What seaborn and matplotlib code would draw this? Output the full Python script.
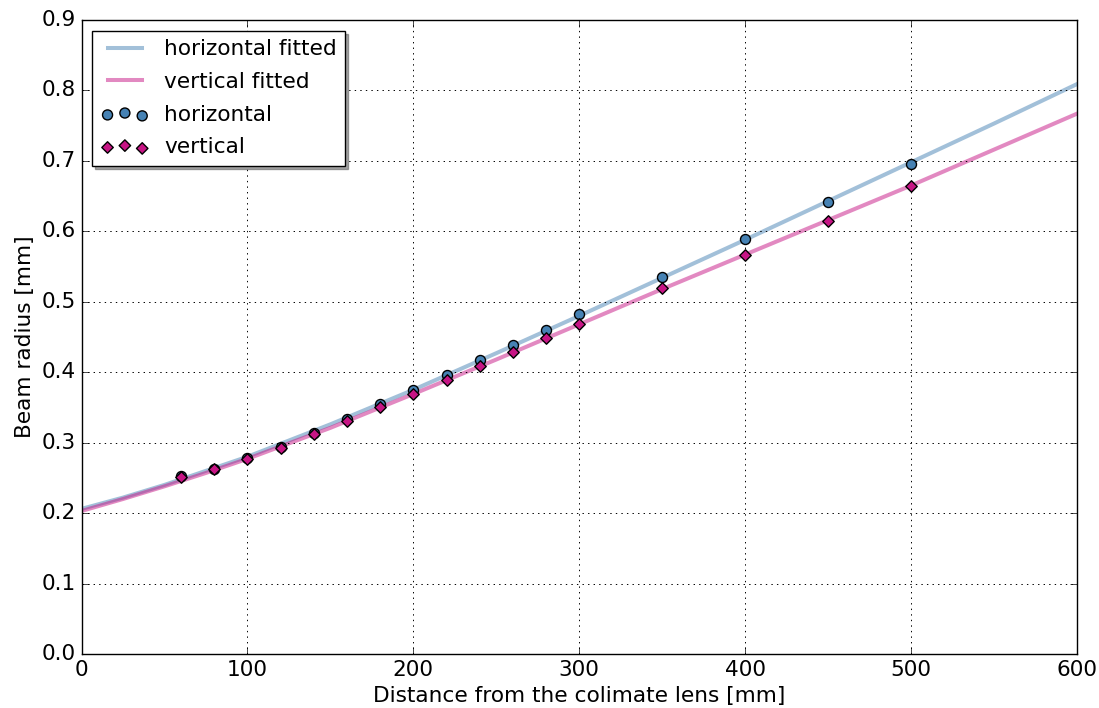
import matplotlib
matplotlib.use("Agg")
import matplotlib.pyplot as plt
import seaborn as sns
import pandas as pd

# Measured beam radius at each distance from the collimating lens
distance_mm = [60, 80, 100, 120, 140, 160, 180, 200, 220, 240, 260, 280, 300,
               350, 400, 450, 500]
horizontal_mm = [0.253, 0.263, 0.278, 0.294, 0.313, 0.334, 0.355, 0.375, 0.396,
                 0.417, 0.438, 0.460, 0.482, 0.535, 0.589, 0.642, 0.695]
vertical_mm = [0.251, 0.262, 0.277, 0.293, 0.312, 0.331, 0.351, 0.369, 0.389,
               0.409, 0.429, 0.449, 0.469, 0.519, 0.566, 0.615, 0.664]

# Fitted beam-radius curves, sampled along the distance axis
fit_distance_mm = [0, 25, 50, 75, 100, 150, 200, 250, 300, 350, 400, 450, 500,
                   550, 600]
horizontal_fit_mm = [0.206, 0.222, 0.240, 0.260, 0.280, 0.326, 0.375, 0.427,
                     0.480, 0.534, 0.588, 0.643, 0.698, 0.753, 0.809]
vertical_fit_mm = [0.203, 0.220, 0.238, 0.257, 0.277, 0.321, 0.369, 0.418,
                   0.468, 0.518, 0.567, 0.616, 0.665, 0.716, 0.767]

x_ticks = [0, 100, 200, 300, 400, 500, 600]
y_ticks = [0.0, 0.1, 0.2, 0.3, 0.4, 0.5, 0.6, 0.7, 0.8, 0.9]

meas = pd.DataFrame({"distance": distance_mm,
                     "horizontal": horizontal_mm,
                     "vertical": vertical_mm})
fit = pd.DataFrame({"distance": fit_distance_mm,
                    "horizontal": horizontal_fit_mm,
                    "vertical": vertical_fit_mm})

plt.style.use("classic")
fs = 15.6
plt.rcParams.update({
    "font.family": ["DejaVu Sans"],
    "font.size": fs,
    "axes.labelsize": fs,
    "xtick.labelsize": fs,
    "ytick.labelsize": fs,
    "legend.fontsize": fs,
    "grid.color": "black",
    "grid.linestyle": ":",
    "grid.linewidth": 0.7,
    "axes.linewidth": 1.0,
    "xtick.major.size": 5,
    "ytick.major.size": 5,
    "xtick.direction": "in",
    "ytick.direction": "in",
})

blue = "#4682b4"
magenta = "#c71585"

fig = plt.figure(figsize=(10.99, 7.08), dpi=100, facecolor="white")
ax = fig.add_axes([0.0742, 0.0763, 0.9058, 0.8955])

sns.lineplot(data=fit, x="distance", y="horizontal", ax=ax, color=blue,
             alpha=0.5, linewidth=2.9, label="horizontal fitted",
             errorbar=None, sort=True, legend=False)
sns.lineplot(data=fit, x="distance", y="vertical", ax=ax, color=magenta,
             alpha=0.5, linewidth=2.9, label="vertical fitted",
             errorbar=None, sort=True, legend=False)
sns.scatterplot(data=meas, x="distance", y="horizontal", ax=ax, marker="o",
                s=52, color=blue, edgecolor="black", linewidth=1.0,
                label="horizontal", legend=False, zorder=3)
sns.scatterplot(data=meas, x="distance", y="vertical", ax=ax, marker="D",
                s=34, color=magenta, edgecolor="black", linewidth=1.0,
                label="vertical", legend=False, zorder=4)

ax.set_xlim(0, 600)
ax.set_ylim(0, 0.9)
ax.set_xticks(x_ticks)
ax.set_yticks(y_ticks)
ax.set_yticklabels([f"{v:.1f}" for v in y_ticks])
ax.grid(True)
ax.set_xlabel("Distance from the colimate lens [mm]")
ax.set_ylabel("Beam radius [mm]")

handles, labels = ax.get_legend_handles_labels()
leg = ax.legend(handles, labels, loc="upper left", numpoints=2,
                scatterpoints=3, scatteryoffsets=[0.375, 0.5, 0.3125],
                shadow=True, fancybox=False, frameon=True, handlelength=2.2,
                handletextpad=0.7, labelspacing=0.58, borderaxespad=0.5)
leg.get_frame().set_edgecolor("black")
leg.get_frame().set_linewidth(1.0)

fig.savefig("out.png", dpi=100, facecolor="white")
